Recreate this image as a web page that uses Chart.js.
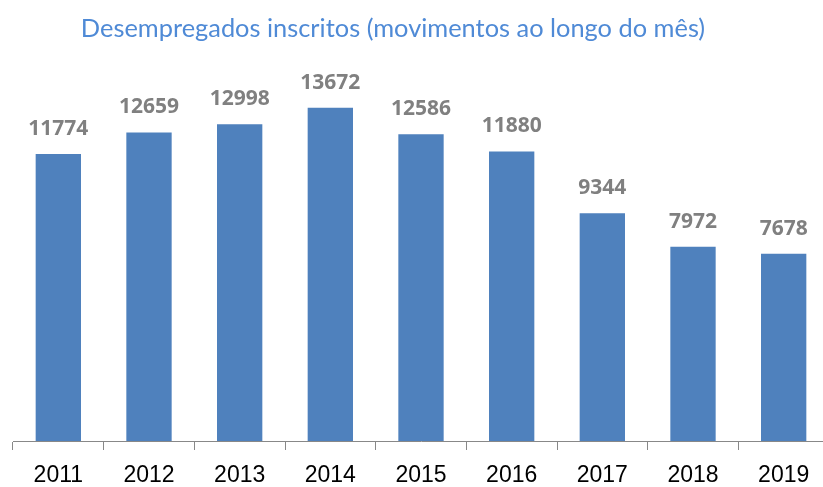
<!DOCTYPE html>
<html>
<head>
<meta charset="utf-8">
<script src="https://cdn.jsdelivr.net/npm/chart.js@4/dist/chart.umd.min.js"></script>
<style>
  html, body { margin: 0; padding: 0; background: #fff; overflow: hidden; }
  #wrap { width: 823px; height: 487px; overflow: hidden; position: relative; }
  #box { width: 842px; height: 487px; position: absolute; left: 0; top: 0; }
</style>
</head>
<body>
<div id="wrap"><div id="box"><canvas id="chart"></canvas></div></div>
<script>
const title = 'Desempregados inscritos (movimentos ao longo do mês)';
const years = ['2011', '2012', '2013', '2014', '2015', '2016', '2017', '2018', '2019'];
const registered = [11774, 12659, 12998, 13672, 12586, 11880, 9344, 7972, 7678];

// title drawn by hand so it sits where the original had it
const titlePlugin = {
  id: 'sheetTitle',
  afterDraw(chart) {
    const ctx = chart.ctx;
    ctx.save();
    ctx.font = '25.4px Lato';
    ctx.fillStyle = '#4f8ad6';
    ctx.textAlign = 'center';
    ctx.textBaseline = 'middle';
    ctx.fillText(title, 393, 29);
    ctx.restore();
  }
};

// value above each bar
const valueLabels = {
  id: 'valueLabels',
  afterDatasetsDraw(chart) {
    const ctx = chart.ctx;
    const meta = chart.getDatasetMeta(0);
    ctx.save();
    ctx.font = 'bold 21px "Open Sans"';
    ctx.fillStyle = '#808080';
    ctx.textAlign = 'center';
    ctx.textBaseline = 'alphabetic';
    meta.data.forEach((bar, i) => {
      ctx.fillText(String(registered[i]), bar.x, bar.y - 19);
    });
    ctx.restore();
  }
};

new Chart(document.getElementById('chart'), {
  type: 'bar',
  data: {
    labels: years,
    datasets: [{
      data: registered,
      backgroundColor: '#4f81bd',
      borderWidth: 0,
      barPercentage: 0.5,
      categoryPercentage: 1
    }]
  },
  options: {
    responsive: true,
    maintainAspectRatio: false,
    animation: false,
    events: [],
    layout: { padding: { left: 13, right: 13, top: 51, bottom: 0 } },
    plugins: {
      legend: { display: false },
      tooltip: { enabled: false }
    },
    scales: {
      x: {
        grid: {
          offset: true,
          drawOnChartArea: false,
          drawTicks: true,
          tickLength: 9,
          color: '#888888'
        },
        border: { display: true, color: '#888888', width: 1 },
        ticks: {
          color: '#000000',
          font: { family: 'Liberation Sans', size: 23 },
          padding: 12
        },
        afterFit: scale => { scale.height = 46; }
      },
      y: {
        display: false,
        min: 0,
        max: 16000
      }
    }
  },
  plugins: [titlePlugin, valueLabels]
});
</script>
</body>
</html>
